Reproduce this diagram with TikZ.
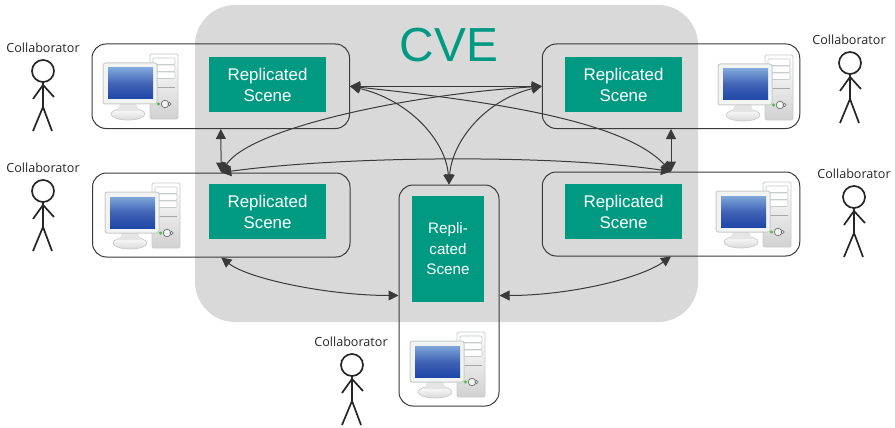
\documentclass[tikz,border=0pt]{standalone}
\usepackage{fontspec}
\setmainfont{Liberation Sans}
\newfontfamily\collabfont{Open Sans}
\usetikzlibrary{arrows.meta,positioning,calc,shadings}
\definecolor{cvegray}{HTML}{D9D9D9}
\definecolor{cvegreen}{HTML}{009A82}
\definecolor{cveline}{HTML}{3A3A3A}
\definecolor{scrA}{HTML}{7FA6DA}
\definecolor{scrB}{HTML}{1F47A8}
\definecolor{pcedge}{HTML}{C8CBCB}
\definecolor{pcbody}{HTML}{F2F4F2}
\tikzset{
  x=1pt,y=-1pt,
  hostbox/.style={draw=cveline,line width=1pt,rounded corners=14pt,inner sep=0pt},
  scenebox/.style={fill=cvegreen,text=white,inner sep=0pt,align=center,font=\fontsize{16.9}{21}\selectfont},
  narrowscene/.style={scenebox,font=\fontsize{15.2}{20.5}\selectfont},
  link/.style={draw=cveline,line width=1pt,{Triangle[length=10pt,width=10pt]}-{Triangle[length=10pt,width=10pt]}},
  limb/.style={draw=black!85,line width=1.7pt},
  collab/.style={font=\collabfont\fontsize{12.6}{15}\selectfont,text=black!85,inner sep=0pt},
  computer/.pic={
    % tower (origin = top-left of tower)
    \draw[pcedge,line width=.8pt,rounded corners=1.5pt,top color=white,bottom color=black!18] (0,0) rectangle (28,65);
    \foreach \yy in {4,11,18}{\draw[pcedge,line width=.6pt,fill=white,rounded corners=1pt] (3,\yy) rectangle (25,\yy+6.5);}
    \draw[black!35,line width=.7pt] (3,33) -- (25,33);
    % stand
    \draw[pcedge,line width=.7pt,top color=white,bottom color=black!15] (-22,60) ellipse [x radius=17,y radius=6];
    \fill[black!10] (-30,50) -- (-14,50) -- (-11,57) -- (-33,57) -- cycle;
    % monitor
    \draw[pcedge,line width=1pt,fill=pcbody,rounded corners=2.5pt] (-47,9) rectangle (7,50);
    \shade[top color=scrA,bottom color=scrB,middle color=scrB!85] (-42,14) rectangle (3,45);
    % switch
    \fill[green!60!black!70] (8.5,50) circle [radius=1.6];
    \draw[black!55,line width=.7pt,fill=pcbody] (15,50) circle [radius=3.8];
    \draw[black!55,line width=.6pt] (19.5,50) circle [radius=1.7];
  },
  stickman/.pic={
    \draw[limb] (0,0) circle [radius=11];
    \draw[limb] (0,11) -- (0,36) (0,14) -- (-10,28) (0,14) -- (11,26) (0,36) -- (-10,60) (0,36) -- (9,60);
  }
}
\begin{document}
\begin{tikzpicture}
\useasboundingbox (0,0) rectangle (895,428);
% CVE region
\fill[cvegray,rounded corners=40pt] (195,5) rectangle (698,322);
\node[font=\fontsize{47.8}{50}\selectfont,text=cvegreen,inner sep=0pt] (cve) at (449,45) {CVE};
% hosts
\node[hostbox,minimum width=257.5pt,minimum height=84.5pt] (tl) at (220.75,86.25) {};
\node[hostbox,minimum width=257.5pt,minimum height=84pt] (ml) at (221.25,215) {};
\node[hostbox,minimum width=257.5pt,minimum height=84.5pt] (tr) at (671,86.25) {};
\node[hostbox,minimum width=257.5pt,minimum height=84pt] (mr) at (671,214) {};
\node[hostbox,minimum width=100pt,minimum height=221pt] (bm) at (449,295.5) {};
% scenes
\node[scenebox,minimum width=117pt,minimum height=55pt] (s1) at (267.5,84.5) {\raisebox{-1pt}{\parbox{117pt}{\centering Replicated\\Scene}}};
\node[scenebox,minimum width=117pt,minimum height=55pt] (s2) at (267.5,211.5) {\raisebox{-1pt}{\parbox{117pt}{\centering Replicated\\Scene}}};
\node[scenebox,minimum width=117pt,minimum height=55pt] (s3) at (623.5,84.5) {\raisebox{-1pt}{\parbox{117pt}{\centering Replicated\\Scene}}};
\node[scenebox,minimum width=117pt,minimum height=55pt] (s4) at (623.5,211.5) {\raisebox{-1pt}{\parbox{117pt}{\centering Replicated\\Scene}}};
\node[narrowscene,minimum width=72pt,minimum height=106pt] (s5) at (448,249) {Repli-\\cated\\Scene};
% computers
\pic at (150,54) {computer};
\pic at (152,183) {computer};
\pic at (765,55) {computer};
\pic at (763,182) {computer};
\pic at (457,332) {computer};
% collaborators
\pic at (43,71) {stickman};
\pic at (43,191) {stickman};
\pic at (850,63) {stickman};
\pic at (854,197) {stickman};
\pic at (352,365) {stickman};
\node[collab] (c1) at (43,48) {Collaborator};
\node[collab] (c2) at (43,168) {Collaborator};
\node[collab] (c3) at (849,40) {Collaborator};
\node[collab] (c4) at (854,174) {Collaborator};
\node[collab] (c5) at (351,342) {Collaborator};
% links
\draw[link] (tl.east) -- (tr.west);
\draw[link] (tl.east) .. controls +(60,14) and +(-3,-43) .. (bm.north);
\draw[link] (tr.west) .. controls +(-57,14) and +(3,-43) .. (bm.north);
\draw[link] (ml.north) .. controls +(28,-43) and +(-142,9) .. (tr.west);
\draw[link] (tl.east) .. controls +(130,14) and +(-50,-53) .. (mr.north);
\draw[link] (ml.north) .. controls +(125,-17) and +(-115,-17) .. (mr.north);
\draw[link] (tl.south) -- (ml.north);
\draw[link] (tr.south) -- (mr.north);
\draw[link] (ml.south) .. controls +(28,22) and +(-68,0) .. (bm.west);
\draw[link] (mr.south) .. controls +(-31,22) and +(70,0) .. (bm.east);
\end{tikzpicture}
\end{document}
